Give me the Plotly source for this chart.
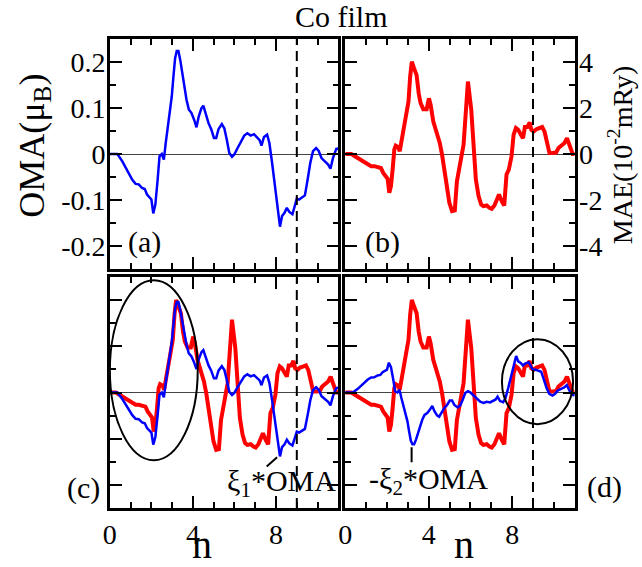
import plotly.graph_objects as go

# ---------------- data ----------------
n_oma = [0, 0.36, 0.60, 0.84, 1.08, 1.24, 1.39, 1.55, 1.68, 1.79, 1.90, 2.00, 2.09, 2.19, 2.30, 2.39,
         2.50, 2.60, 2.69, 2.79, 2.90, 2.98, 3.06, 3.14, 3.22, 3.30, 3.39, 3.49, 3.58, 3.69, 3.80, 3.93,
         4.06, 4.17, 4.28, 4.41, 4.50, 4.63, 4.75, 4.88, 5.01, 5.12, 5.23, 5.39, 5.51, 5.63, 5.75, 5.88,
         5.99, 6.15, 6.31, 6.47, 6.62, 6.78, 6.94, 7.10, 7.21, 7.30, 7.42, 7.57, 7.68, 7.81, 7.94, 8.06,
         8.19, 8.29, 8.41, 8.52, 8.64, 8.79, 8.89, 9.00, 9.11, 9.24, 9.39, 9.52, 9.65, 9.78, 9.93, 10.06,
         10.19, 10.35, 10.51, 10.62, 10.74, 10.90, 11.0]
oma = [0, 0, -0.016, -0.037, -0.056, -0.065, -0.066, -0.074, -0.076, -0.088, -0.095, -0.099, -0.129,
       -0.11, -0.056, -0.005, 0, -0.012, 0.024, 0.06, 0.096, 0.125, 0.168, 0.208, 0.224, 0.224, 0.204,
       0.175, 0.143, 0.118, 0.097, 0.089, 0.074, 0.058, 0.082, 0.1, 0.105, 0.085, 0.067, 0.054, 0.035,
       0.035, 0.054, 0.065, 0.056, 0.031, 0.002, -0.006, -0.001, 0.013, 0.027, 0.04, 0.045, 0.04, 0.043,
       0.036, 0.03, 0.018, 0.037, 0.042, 0.024, -0.019, -0.07, -0.12, -0.158, -0.135, -0.128, -0.117,
       -0.126, -0.131, -0.113, -0.097, -0.099, -0.095, -0.09, -0.056, -0.019, 0.006, 0.013, 0.006,
       -0.009, -0.016, -0.023, -0.032, -0.009, 0.011, 0.012]

n_mae = [0, 0.29, 0.52, 0.76, 1.0, 1.24, 1.39, 1.55, 1.71, 1.82, 1.95, 2.03, 2.11, 2.19, 2.27, 2.35,
         2.42, 2.54, 2.61, 2.71, 2.82, 2.93, 3.03, 3.11, 3.19, 3.30, 3.42, 3.52, 3.61, 3.74, 3.90, 4.01,
         4.09, 4.22, 4.37, 4.53, 4.64, 4.75, 4.88, 4.99, 5.12, 5.25, 5.35, 5.45, 5.56, 5.67, 5.78, 5.88,
         6.04, 6.15, 6.26, 6.39, 6.51, 6.62, 6.78, 6.91, 7.02, 7.15, 7.26, 7.37, 7.50, 7.62, 7.73, 7.84,
         7.97, 8.07, 8.18, 8.29, 8.42, 8.52, 8.61, 8.73, 8.84, 8.92, 9.03, 9.16, 9.32, 9.44, 9.55, 9.68,
         9.79, 9.95, 10.11, 10.22, 10.38, 10.51, 10.63, 10.74, 10.9, 11.0]
mae = [0, 0, -0.13, -0.27, -0.42, -0.53, -0.53, -0.58, -0.61, -0.82, -0.97, -1.08, -1.69, -1.4, -0.68,
       0.19, 0.36, 0.3, 0.12, 0.62, 1.34, 1.85, 2.28, 3.36, 4.01, 3.72, 3.43, 2.64, 2.21, 1.95, 1.95,
       2.42, 2.14, 1.41, 0.98, 0.48, -0.03, -0.75, -1.4, -2.12, -2.48, -2.45, -1.2, -0.6, -0.15, 0.4,
       1.9, 3.15, 1.92, 0.19, -1.11, -1.83, -2.19, -2.27, -2.24, -2.34, -2.38, -2.24, -1.98, -1.76,
       -2.05, -2.24, -0.89, -0.68, -0.1, 0.84, 1.13, 1.05, 0.84, 0.69, 1.17, 1.17, 1.37, 1.05, 0.98,
       1.08, 1.13, 1.17, 0.98, 0.48, 0.04, 0.04, 0.07, 0.26, 0.36, 0.48, 0.69, 0.36, 0, 0]

XI1 = 17.5   # scaling of OMA in panel (c)
XI2 = 10.0   # scaling of OMA in panel (d)

oma_ticks = [-0.2, -0.1, 0, 0.1, 0.2]
oma_ticktext = ["-0.2", "-0.1", "0", "0.1", "0.2"]
mae_ticks = [-4, -2, 0, 2, 4]
mae_ticktext = ["-4", "-2", "0", "2", "4"]
n_ticks = [0, 4, 8]
n_ticktext = ["0", "4", "8"]

# ---------------- styling ----------------
W, H = 642, 567
FONT = "Liberation Serif"
BLUE = "#0000ff"
RED = "#ff0000"

def px(x):
    return x / W

def py(y):
    return 1 - y / H

XL = [px(104), px(335)]
XR = [px(342), px(574)]
YT = [py(269), py(39)]
YB = [py(508), py(277)]

def xax(domain, anchor, labels):
    return dict(domain=domain, anchor=anchor, range=[0, 11], showline=True, linewidth=2.5,
                linecolor="black", mirror="allticks", ticks="inside", ticklen=12, tickwidth=2,
                tickcolor="black", tickmode="array", tickvals=n_ticks, ticktext=n_ticktext,
                showticklabels=labels, showgrid=False, zeroline=False,
                tickfont=dict(family=FONT, size=28, color="black"),
                minor=dict(tickmode="linear", tick0=0, dtick=1, ticks="inside", ticklen=6,
                           tickwidth=2, tickcolor="black"))

def yax(domain, anchor, rng, vals, text, minor_dt, labels, side="left"):
    return dict(domain=domain, anchor=anchor, range=rng, showline=True, linewidth=2.5,
                linecolor="black", mirror="allticks", ticks="inside", ticklen=12, tickwidth=2,
                tickcolor="black", tickmode="array", tickvals=vals, ticktext=text,
                showticklabels=labels, side=side, showgrid=False, zeroline=True,
                zerolinecolor="#444444", zerolinewidth=1.3, ticklabelstandoff=-4,
                tickfont=dict(family=FONT, size=28, color="black"),
                minor=dict(tickmode="linear", tick0=0, dtick=minor_dt, ticks="inside", ticklen=6,
                           tickwidth=2, tickcolor="black"))

fig = go.Figure()

# (a)
fig.add_trace(go.Scatter(x=n_oma, y=oma, mode="lines", line=dict(color=BLUE, width=2.5),
                         xaxis="x", yaxis="y", showlegend=False))
# (b)
fig.add_trace(go.Scatter(x=n_mae, y=mae, mode="lines", line=dict(color=RED, width=4),
                         xaxis="x2", yaxis="y2", showlegend=False))
# (c)
fig.add_trace(go.Scatter(x=n_mae, y=mae, mode="lines", line=dict(color=RED, width=4),
                         xaxis="x3", yaxis="y3", showlegend=False))
fig.add_trace(go.Scatter(x=n_oma, y=[XI1 * v for v in oma], mode="lines",
                         line=dict(color=BLUE, width=2.5), xaxis="x3", yaxis="y3", showlegend=False))
# (d)
fig.add_trace(go.Scatter(x=n_mae, y=mae, mode="lines", line=dict(color=RED, width=4),
                         xaxis="x4", yaxis="y4", showlegend=False))
fig.add_trace(go.Scatter(x=n_oma, y=[-XI2 * v for v in oma], mode="lines",
                         line=dict(color=BLUE, width=2.5), xaxis="x4", yaxis="y4", showlegend=False))

shapes = []
for xr, yr in [("x", "y"), ("x2", "y2"), ("x3", "y3"), ("x4", "y4")]:
    shapes.append(dict(type="line", xref=xr, yref=yr + " domain", x0=9, x1=9, y0=0, y1=1,
                       line=dict(color="black", width=2, dash="10px,6px")))
shapes.append(dict(type="circle", xref="x3", yref="y3", x0=0.0, x1=4.23, y0=-2.93, y1=4.86,
                   line=dict(color="black", width=2)))
shapes.append(dict(type="circle", xref="x4", yref="y4", x0=7.51, x1=10.92, y0=-1.37, y1=2.31,
                   line=dict(color="black", width=2)))
shapes.append(dict(type="line", xref="x3", yref="y3", x0=7.55, x1=8.05, y0=-3.2, y1=-2.8,
                   line=dict(color="black", width=2)))
shapes.append(dict(type="line", xref="x4", yref="y4", x0=3.18, x1=3.18, y0=-3.02, y1=-2.37,
                   line=dict(color="black", width=2)))

def ann(text, x, y, size, angle=0):
    return dict(text=text, x=px(x), y=py(y), xref="paper", yref="paper", showarrow=False,
                xanchor="center", yanchor="middle", textangle=angle,
                font=dict(family=FONT, size=size, color="black"))

annotations = [
    ann("Co film", 338, 17, 30),
    ann("(a)", 139, 242, 30),
    ann("(b)", 380, 242, 30),
    ann("(c)", 77, 488, 30),
    ann("(d)", 604, 487, 30),
    ann("n", 197, 544, 40),
    ann("n", 462, 544, 40),
    ann("OMA(μ<sub>B</sub>)", 27, 146, 36, -90),
    ann("MAE(10<sup>-2</sup>mRy)", 620, 155, 28, -90),
    ann("ξ<sub>1</sub>*OMA", 278, 483, 30),
    ann("-ξ<sub>2</sub>*OMA", 426, 481, 30),
]

fig.update_layout(
    width=W, height=H, margin=dict(l=0, r=0, t=0, b=0),
    paper_bgcolor="white", plot_bgcolor="white",
    xaxis=xax(XL, "y", False),
    yaxis=yax(YT, "x", [-0.25, 0.25], oma_ticks, oma_ticktext, 0.05, True),
    xaxis2=xax(XR, "y2", False),
    yaxis2=yax(YT, "x2", [-5, 5], mae_ticks, mae_ticktext, 1, True, side="right"),
    xaxis3=xax(XL, "y3", True),
    yaxis3=yax(YB, "x3", [-5, 5], mae_ticks, mae_ticktext, 1, False),
    xaxis4=xax(XR, "y4", True),
    yaxis4=yax(YB, "x4", [-5, 5], mae_ticks, mae_ticktext, 1, False),
    shapes=shapes, annotations=annotations,
)

fig.write_html("out.html")
